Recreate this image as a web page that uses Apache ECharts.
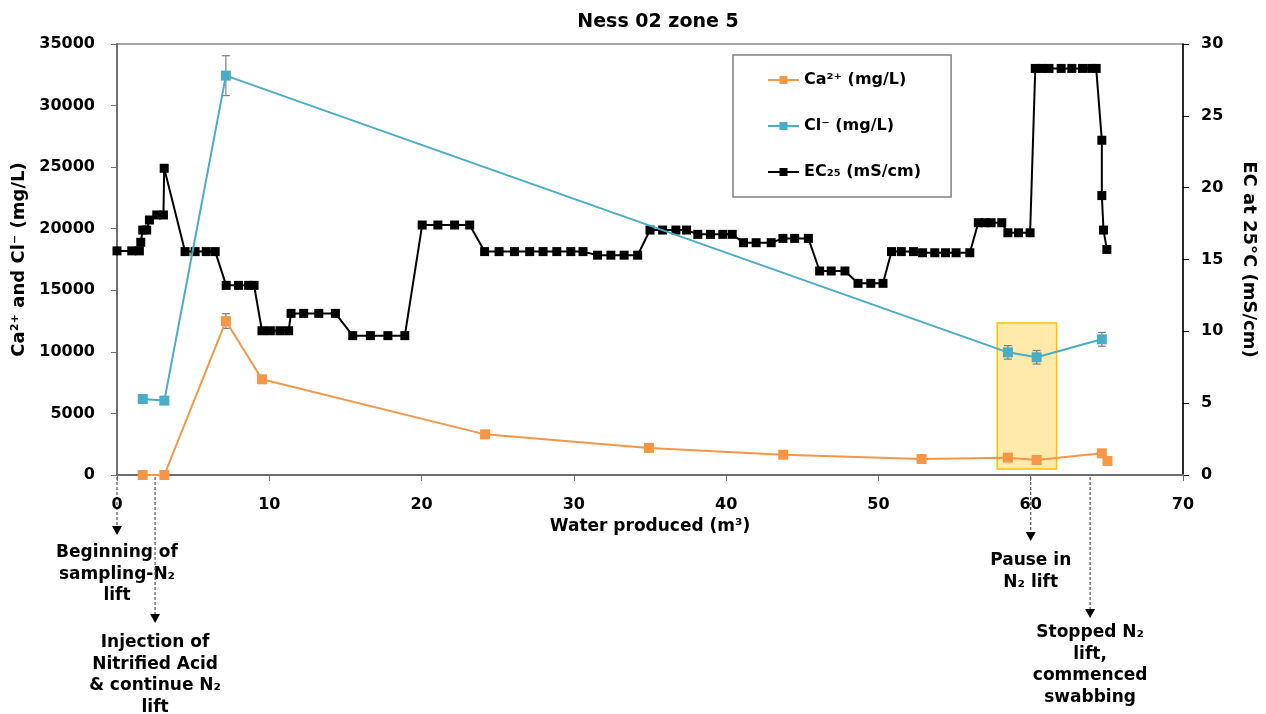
<!DOCTYPE html>
<html>
<head>
<meta charset="utf-8">
<script src="https://cdn.jsdelivr.net/npm/echarts@6/dist/echarts.min.js"></script>
<style>
html,body{margin:0;padding:0;background:#fff;}
#chart{width:1266px;height:714px;}
</style>
</head>
<body>
<div id="chart"></div>
<script>
// ---------- DATA ----------
const title = 'Ness 02 zone 5';
const xTicks = [0, 10, 20, 30, 40, 50, 60, 70];

// Ca2+ (mg/L)
const caWater = [1.69, 3.11, 7.15, 9.52, 24.17, 34.93, 43.75, 52.83, 58.5, 60.39, 64.67, 65.04];
const caValues = [0, 0, 12500, 7770, 3300, 2200, 1650, 1300, 1410, 1220, 1760, 1140];
const caErr = [0, 0, 600, 250, 0, 0, 0, 0, 0, 0, 0, 0];

// Cl- (mg/L)
const clWater = [1.69, 3.11, 7.15, 58.5, 60.39, 64.67];
const clValues = [6170, 6040, 32430, 9960, 9560, 11020];
const clErr = [0, 0, 1620, 550, 550, 560];

// EC25 (mS/cm)
const ecWater = [0, 0.97, 1.47, 1.56, 1.69, 1.95, 2.13, 2.61, 3.05, 3.1,
  4.47, 5.13, 5.86, 6.45, 7.17, 7.98, 8.64, 9.0, 9.52, 10.07, 10.7, 11.27,
  11.43, 12.26, 13.25, 14.34, 15.48, 16.64, 17.79, 18.9, 20.04, 21.07, 22.17, 23.16,
  24.14, 25.09, 26.1, 27.1, 27.98, 28.88, 29.8, 30.6, 31.56, 32.43, 33.3, 34.19,
  35.0, 35.83, 36.7, 37.4, 38.14, 38.97, 39.78, 40.4, 41.14, 41.97, 42.96,
  43.73, 44.5, 45.4, 46.14, 46.9, 47.8, 48.66, 49.5, 50.3, 50.86, 51.5, 52.3,
  52.9, 53.7, 54.4, 55.1, 56.0, 56.56, 57.0, 57.4, 58.1, 58.5, 59.2, 59.96,
  60.3, 60.7, 61.2, 62.0, 62.7, 63.4, 64.0, 64.3, 64.67, 64.67, 64.78, 65.0];
const ecValues = [15.6, 15.6, 15.6, 16.2, 17.05, 17.05, 17.75, 18.1, 18.1, 21.35,
  15.55, 15.55, 15.55, 15.55, 13.2, 13.2, 13.2, 13.2, 10.04, 10.04, 10.04, 10.04,
  11.25, 11.25, 11.25, 11.25, 9.7, 9.7, 9.7, 9.7, 17.4, 17.4, 17.4, 17.4,
  15.55, 15.55, 15.55, 15.55, 15.55, 15.55, 15.55, 15.55, 15.3, 15.3, 15.3, 15.3,
  17.05, 17.05, 17.05, 17.05, 16.75, 16.75, 16.75, 16.75, 16.17, 16.17, 16.17,
  16.47, 16.47, 16.47, 14.2, 14.2, 14.2, 13.34, 13.34, 13.34, 15.55, 15.55, 15.55,
  15.47, 15.47, 15.47, 15.47, 15.47, 17.56, 17.56, 17.56, 17.56, 16.86, 16.86, 16.86,
  28.3, 28.3, 28.3, 28.3, 28.3, 28.3, 28.3, 28.3, 23.3, 19.45, 17.05, 15.7];

// Highlighted window (pause in N2 lift)
const pauseWindowX = [57.8, 61.7];
const pauseWindowY = [490, 12340];

// Annotations below the x axis
const annotations = [
  { x: 0,    tipY: 535, textY: 553, text: 'Beginning of\nsampling-N\u2082\nlift' },
  { x: 2.5,  tipY: 623, textY: 643, text: 'Injection of\nNitrified Acid\n& continue N\u2082\nlift' },
  { x: 60,   tipY: 541, textY: 561, text: 'Pause in\nN\u2082 lift' },
  { x: 63.9, tipY: 618, textY: 633, text: 'Stopped N\u2082\nlift,\ncommenced\nswabbing' }
];

// ---------- CHART ----------
const FONT = 'DejaVu Sans';
const zip = (xs, ys) => xs.map((x, i) => [x, ys[i]]);
const errData = (xs, ys, es) => xs.map((x, i) => [x, ys[i] - es[i], ys[i] + es[i]]).filter((d, i) => es[i] > 0);

function errRender(params, api) {
  const x = api.value(0);
  const p1 = api.coord([x, api.value(2)]);
  const p2 = api.coord([x, api.value(1)]);
  const w = 4;
  const st = { stroke: '#7f7f7f', lineWidth: 1.2 };
  return {
    type: 'group',
    children: [
      { type: 'line', shape: { x1: p1[0], y1: p1[1], x2: p2[0], y2: p2[1] }, style: st },
      { type: 'line', shape: { x1: p1[0] - w, y1: p1[1], x2: p1[0] + w, y2: p1[1] }, style: st },
      { type: 'line', shape: { x1: p2[0] - w, y1: p2[1], x2: p2[0] + w, y2: p2[1] }, style: st }
    ]
  };
}

const chart = echarts.init(document.getElementById('chart'), null, { renderer: 'canvas' });
const axisLabelStyle = { color: '#000', fontFamily: FONT, fontWeight: 'bold', fontSize: 16 };

const option = {
  backgroundColor: '#fff',
  animation: false,
  title: {
    text: title, left: 653, top: 8, textAlign: 'center',
    textStyle: { fontFamily: FONT, fontWeight: 'bold', fontSize: 19, color: '#000' }
  },
  legend: {
    orient: 'vertical', left: 733, top: 55,
    padding: [17, 30, 17, 34],
    itemGap: 30, itemWidth: 31, itemHeight: 10,
    borderColor: '#808080', borderWidth: 1.5,
    textStyle: { fontFamily: FONT, fontWeight: 'bold', fontSize: 16, color: '#000', lineHeight: 16 },
    data: ['Ca\u00B2\u207A (mg/L)', 'Cl\u207B (mg/L)', 'EC\u2082\u2085 (mS/cm)']
  },
  grid: {
    left: 117, right: 83, top: 44, bottom: 239, show: true,
    containLabel: false, outerBoundsMode: 'none',
    borderColor: '#8a8a8a', borderWidth: 1.5, backgroundColor: 'transparent'
  },
  xAxis: {
    type: 'value', min: 0, max: 70, interval: 10,
    name: 'Water produced (m\u00B3)', nameLocation: 'middle', nameGap: 37,
    nameTextStyle: { fontFamily: FONT, fontWeight: 'bold', fontSize: 17, color: '#000' },
    axisLine: { lineStyle: { color: '#6e6e6e', width: 2 } },
    axisTick: { show: true, inside: false, length: 6, lineStyle: { color: '#6e6e6e' } },
    axisLabel: Object.assign({ margin: 22, formatter: v => xTicks.includes(v) ? String(v) : '' }, axisLabelStyle),
    splitLine: { show: false }
  },
  yAxis: [
    {
      type: 'value', min: 0, max: 35000, interval: 5000, position: 'left',
      name: 'Ca\u00B2\u207A and Cl\u207B (mg/L)', nameLocation: 'middle', nameGap: 86,
      nameTextStyle: { fontFamily: FONT, fontWeight: 'bold', fontSize: 18, color: '#000' },
      axisLine: { show: true, lineStyle: { color: '#6e6e6e', width: 2 } },
      axisTick: { show: true, inside: false, length: 6, lineStyle: { color: '#6e6e6e' } },
      axisLabel: Object.assign({ margin: 22, formatter: v => String(v) }, axisLabelStyle),
      splitLine: { show: false }
    },
    {
      type: 'value', min: 0, max: 30, interval: 5, position: 'right',
      name: 'EC at 25\u00B0C (mS/cm)', nameLocation: 'middle', nameGap: 57, nameRotate: -90,
      nameTextStyle: { fontFamily: FONT, fontWeight: 'bold', fontSize: 18, color: '#000' },
      axisLine: { show: true, lineStyle: { color: '#000', width: 1.5 } },
      axisTick: { show: true, inside: false, length: 6, lineStyle: { color: '#000' } },
      axisLabel: Object.assign({ margin: 18, formatter: v => String(v) }, axisLabelStyle),
      splitLine: { show: false }
    }
  ],
  series: [
    {
      type: 'custom', name: 'caErr', yAxisIndex: 0, z: 1,
      renderItem: errRender, data: errData(caWater, caValues, caErr), silent: true
    },
    {
      type: 'custom', name: 'clErr', yAxisIndex: 0, z: 1,
      renderItem: errRender, data: errData(clWater, clValues, clErr), silent: true
    },
    {
      name: 'EC\u2082\u2085 (mS/cm)', type: 'line', yAxisIndex: 1, z: 3,
      data: zip(ecWater, ecValues),
      symbol: 'rect', symbolSize: 9, showAllSymbol: true,
      lineStyle: { color: '#000', width: 2 }, itemStyle: { color: '#000' }
    },
    {
      name: 'Cl\u207B (mg/L)', type: 'line', yAxisIndex: 0, z: 4,
      data: zip(clWater, clValues),
      symbol: 'rect', symbolSize: 10, showAllSymbol: true,
      lineStyle: { color: '#4BACC6', width: 2 }, itemStyle: { color: '#4BACC6' }
    },
    {
      name: 'Ca\u00B2\u207A (mg/L)', type: 'line', yAxisIndex: 0, z: 4,
      data: zip(caWater, caValues),
      symbol: 'rect', symbolSize: 10, showAllSymbol: true,
      lineStyle: { color: '#F79646', width: 2 }, itemStyle: { color: '#F79646' }
    },
    {
      name: 'pause', type: 'line', yAxisIndex: 0, z: 10, data: [], silent: true,
      markArea: {
        silent: true,
        itemStyle: { color: 'rgba(255,192,0,0.33)', borderColor: '#FFC000', borderWidth: 1.5 },
        data: [[{ xAxis: pauseWindowX[0], yAxis: pauseWindowY[1] }, { xAxis: pauseWindowX[1], yAxis: pauseWindowY[0] }]]
      }
    }
  ]
};
chart.setOption(option);

// annotations: dashed arrows and labels, positioned through the x axis scale
const axisY = chart.convertToPixel({ yAxisIndex: 0 }, 0);
const lineH = 21.5;
const elements = [];
annotations.forEach(a => {
  const px = chart.convertToPixel({ xAxisIndex: 0 }, a.x);
  elements.push({
    type: 'line', silent: true,
    shape: { x1: px, y1: axisY + 2, x2: px, y2: a.tipY - 8 },
    style: { stroke: '#555', lineWidth: 1.2, lineDash: [3, 2] }
  });
  elements.push({
    type: 'polygon', silent: true,
    shape: { points: [[px - 5, a.tipY - 9], [px + 5, a.tipY - 9], [px, a.tipY]] },
    style: { fill: '#000' }
  });
  elements.push({
    type: 'text', silent: true, x: px, y: a.textY - lineH / 2,
    style: {
      text: a.text, fill: '#000', align: 'center', verticalAlign: 'top',
      font: 'bold 17px "' + FONT + '"', lineHeight: lineH
    }
  });
});
chart.setOption({ graphic: elements });
</script>
</body>
</html>
